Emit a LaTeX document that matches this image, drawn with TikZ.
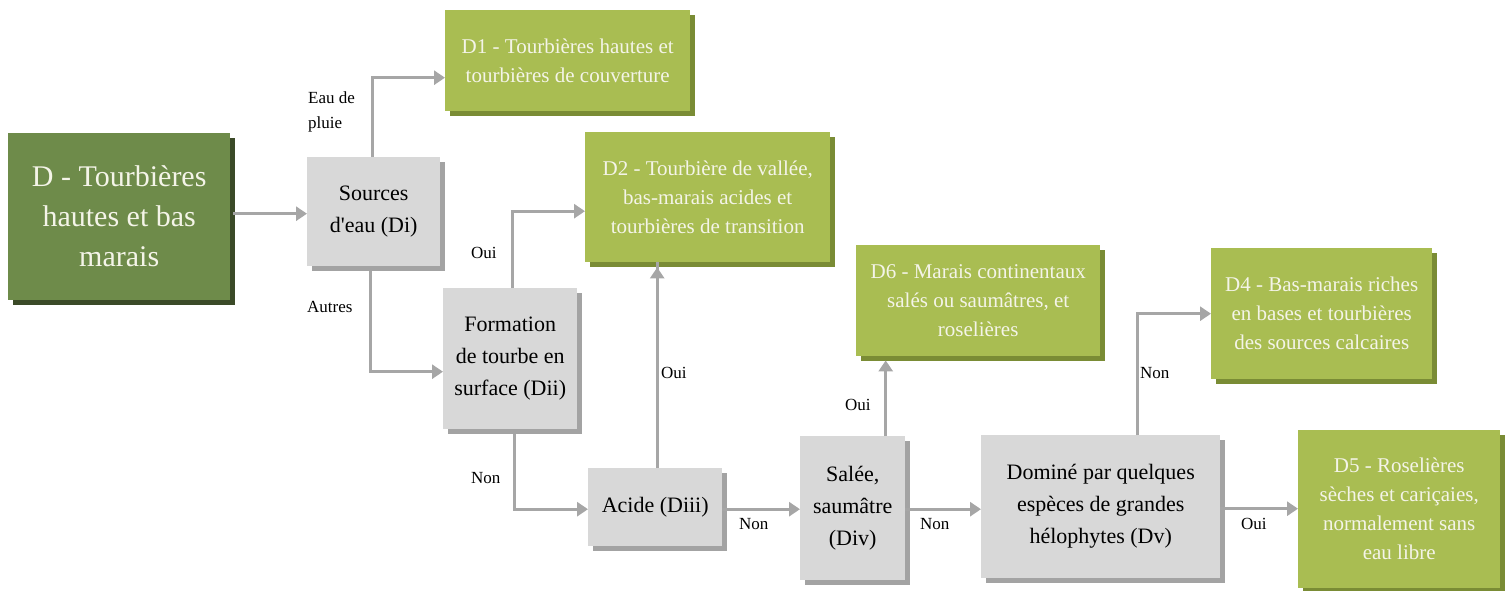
\documentclass[tikz,border=0pt]{standalone}
\usepackage{fontspec}
\setmainfont{Liberation Serif}
\usetikzlibrary{arrows.meta,shadows,calc}

\definecolor{darkgreen}{HTML}{6E8B4A}
\definecolor{darkgreenshadow}{HTML}{3B4A28}
\definecolor{lightgreen}{HTML}{A9BD52}
\definecolor{lightgreenshadow}{HTML}{7A8C35}
\definecolor{greybox}{HTML}{D8D8D8}
\definecolor{greyshadow}{HTML}{A3A3A3}
\definecolor{arrowgrey}{HTML}{A6A6A6}
\definecolor{paletext}{HTML}{F4F4E8}

\tikzset{
  basebox/.style={rectangle, inner sep=0pt, align=center, anchor=north west},
  rootbox/.style={basebox, fill=darkgreen, text=paletext,
    font=\fontsize{30}{40}\selectfont,
    drop shadow={shadow xshift=5pt, shadow yshift=-5pt, fill=darkgreenshadow, opacity=1}},
  habitat/.style={basebox, fill=lightgreen, text=paletext,
    font=\fontsize{21}{29}\selectfont,
    drop shadow={shadow xshift=5pt, shadow yshift=-5pt, fill=lightgreenshadow, opacity=1}},
  question/.style={basebox, fill=greybox, text=black,
    font=\fontsize{22}{32}\selectfont,
    drop shadow={shadow xshift=5pt, shadow yshift=-5pt, fill=greyshadow, opacity=1}},
  flow/.style={draw=arrowgrey, line width=3.3pt,
    -{Triangle[length=11pt,width=14pt]}},
  answer/.style={font=\fontsize{17}{25}\selectfont, align=left, inner sep=0pt}
}

\begin{document}
\begin{tikzpicture}[x=1pt,y=-1pt]
\useasboundingbox (0,0) rectangle (1509,591);

% decision steps
\node[rootbox, minimum width=222, minimum height=167] (D) at (8,133)
  {D - Tourbières\\hautes et bas\\marais};
\node[question, minimum width=133, minimum height=109] (Di) at (307,157)
  {Sources\\d\textquotesingle eau (Di)};
\node[question, minimum width=134, minimum height=141] (Dii) at (443,288)
  {Formation\\de tourbe en\\surface (Dii)};
\node[question, minimum width=134, minimum height=78] (Diii) at (588,468)
  {Acide (Diii)};
\node[question, minimum width=105, minimum height=144] (Div) at (800,436)
  {Salée,\\saumâtre\\(Div)};
\node[question, minimum width=239, minimum height=143] (Dv) at (981,435)
  {Dominé par quelques\\espèces de grandes\\hélophytes (Dv)};

% habitat outcomes
\node[habitat, minimum width=245, minimum height=101] (D1) at (445,10)
  {D1 - Tourbières hautes et\\tourbières de couverture};
\node[habitat, minimum width=245, minimum height=130] (D2) at (585,132)
  {D2 - Tourbière de vallée,\\bas-marais acides et\\tourbières de transition};
\node[habitat, minimum width=244, minimum height=111] (D6) at (856,245)
  {D6 - Marais continentaux\\salés ou saumâtres, et\\roselières};
\node[habitat, minimum width=221, minimum height=131] (D4) at (1211,248)
  {D4 - Bas-marais riches\\en bases et tourbières\\des sources calcaires};
\node[habitat, minimum width=202, minimum height=158] (D5) at (1298,430)
  {D5 - Roselières\\sèches et cariçaies,\\normalement sans\\eau libre};

% connectors
\draw[flow] (D.east) ++(3,-3) coordinate (Dout) -- (Dout -| Di.west);
\draw[flow] ([xshift=-1]Di.north) |- ([yshift=-17]D1.west);
\draw[flow] ([xshift=-3,yshift=-5]Di.south) |- ([yshift=-13]Dii.west);
\draw[flow] ([xshift=2]Dii.north) |- ([yshift=-14]D2.west);
\draw[flow] ([xshift=4,yshift=-5]Dii.south) |- ([yshift=-2]Diii.west);
\draw[flow] ([xshift=2]Diii.north) -- ([xshift=2]Diii.north |- D2.south) ++(0,5);
\draw[flow] ([yshift=-2]Diii.east) coordinate (Diiiout) -- (Diiiout -| Div.west);
\draw[flow] ([xshift=33]Div.north) coordinate (Divtop) -- ([yshift=-4]Divtop |- D6.south);
\draw[flow] ([yshift=-1]Div.east) coordinate (Divout) -- (Divout -| Dv.west);
\draw[flow] ([xshift=37]Dv.north) |- (D4.west);
\draw[flow] ([yshift=-2]Dv.east) coordinate (Dvout) -- (Dvout -| D5.west);

% branch labels
\node[answer, anchor=west] (l1) at (308,112) {Eau de\\pluie};
\node[answer, anchor=west] (l2) at (307,307) {Autres};
\node[answer, anchor=west] (l3) at (471,253) {Oui};
\node[answer, anchor=west] (l4) at (471,478) {Non};
\node[answer, anchor=west] (l5) at (661,373) {Oui};
\node[answer, anchor=west] (l6) at (739,524) {Non};
\node[answer, anchor=west] (l7) at (845,405) {Oui};
\node[answer, anchor=west] (l8) at (920,524) {Non};
\node[answer, anchor=west] (l9) at (1140,373) {Non};
\node[answer, anchor=west] (l10) at (1241,524) {Oui};
\end{tikzpicture}
\end{document}
